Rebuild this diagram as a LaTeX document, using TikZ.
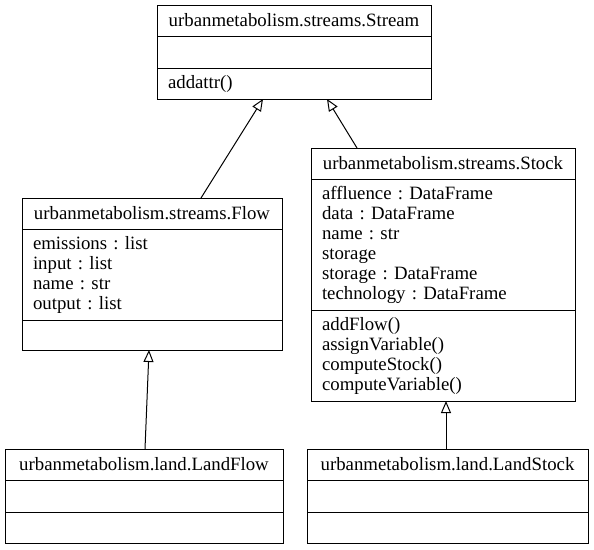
\documentclass[tikz,border=0pt]{standalone}
\usepackage{fontspec}
\setmainfont{Liberation Serif}
\usetikzlibrary{arrows.meta,positioning}
\newcommand{\umfont}{\fontsize{18.8}{20}\selectfont\frenchspacing}
\tikzset{>=latex,
  umbox/.style={draw, line width=1pt, outer sep=0pt, inner xsep=11pt, inner ysep=0pt, font=\umfont},
  umtitle/.style={umbox, minimum height=31pt, align=center, anchor=north west},
  umpart/.style={umbox, align=left, anchor=north},
  inherit/.style={line width=1pt, -{Triangle[open,length=12pt,width=10pt]}}
}

\begin{document}
\begin{tikzpicture}[x=1pt,y=-1pt]
    \useasboundingbox (0,0) rectangle (594,549);
    % base class
    \node [umtitle, minimum width=274pt] (stream) at (157,5) {urbanmetabolism.streams.Stream};
    \node [umpart, below=0pt of stream, text width=252pt, minimum height=32pt] (stream-attr) {};
    \node [umpart, below=0pt of stream-attr, text width=252pt, minimum height=31pt] (stream-meth) {addattr()};
    % flow
    \node [umtitle, minimum width=260pt] (flow) at (22,198) {urbanmetabolism.streams.Flow};
    \node [umpart, below=0pt of flow, text width=238pt, minimum height=91pt] (flow-attr) {emissions : list\\input : list\\name : str\\output : list};
    \node [umpart, below=0pt of flow-attr, text width=238pt, minimum height=30pt] (flow-meth) {};
    % stock
    \node [umtitle, minimum width=264pt] (stock) at (311,148) {urbanmetabolism.streams.Stock};
    \node [umpart, below=0pt of stock, text width=242pt, minimum height=131pt] (stock-attr) {affluence : DataFrame\\data : DataFrame\\name : str\\storage\\storage : DataFrame\\technology : DataFrame};
    \node [umpart, below=0pt of stock-attr, text width=242pt, minimum height=91pt] (stock-meth) {addFlow()\\assignVariable()\\computeStock()\\computeVariable()};
    % land classes
    \node [umtitle, minimum width=278pt] (landflow) at (5,449) {urbanmetabolism.land.LandFlow};
    \node [umpart, below=0pt of landflow, text width=256pt, minimum height=32pt] (landflow-attr) {};
    \node [umpart, below=0pt of landflow-attr, text width=256pt, minimum height=31pt] (landflow-meth) {};
    \node [umtitle, minimum width=281pt] (landstock) at (307,449) {urbanmetabolism.land.LandStock};
    \node [umpart, below=0pt of landstock, text width=259pt, minimum height=32pt] (landstock-attr) {};
    \node [umpart, below=0pt of landstock-attr, text width=259pt, minimum height=31pt] (landstock-meth) {};
    % inheritance
    \draw [inherit] ([xshift=49pt]flow.north) -- ([xshift=-31pt]stream-meth.south);
    \draw [inherit] ([xshift=-86pt]stock.north) -- ([xshift=33pt]stream-meth.south);
    \draw [inherit] ([xshift=1pt]landflow.north) -- ([xshift=-3pt]flow-meth.south);
    \draw [inherit] ([xshift=-1.5pt]landstock.north) -- ([xshift=3pt]stock-meth.south);
\end{tikzpicture}
\end{document}
